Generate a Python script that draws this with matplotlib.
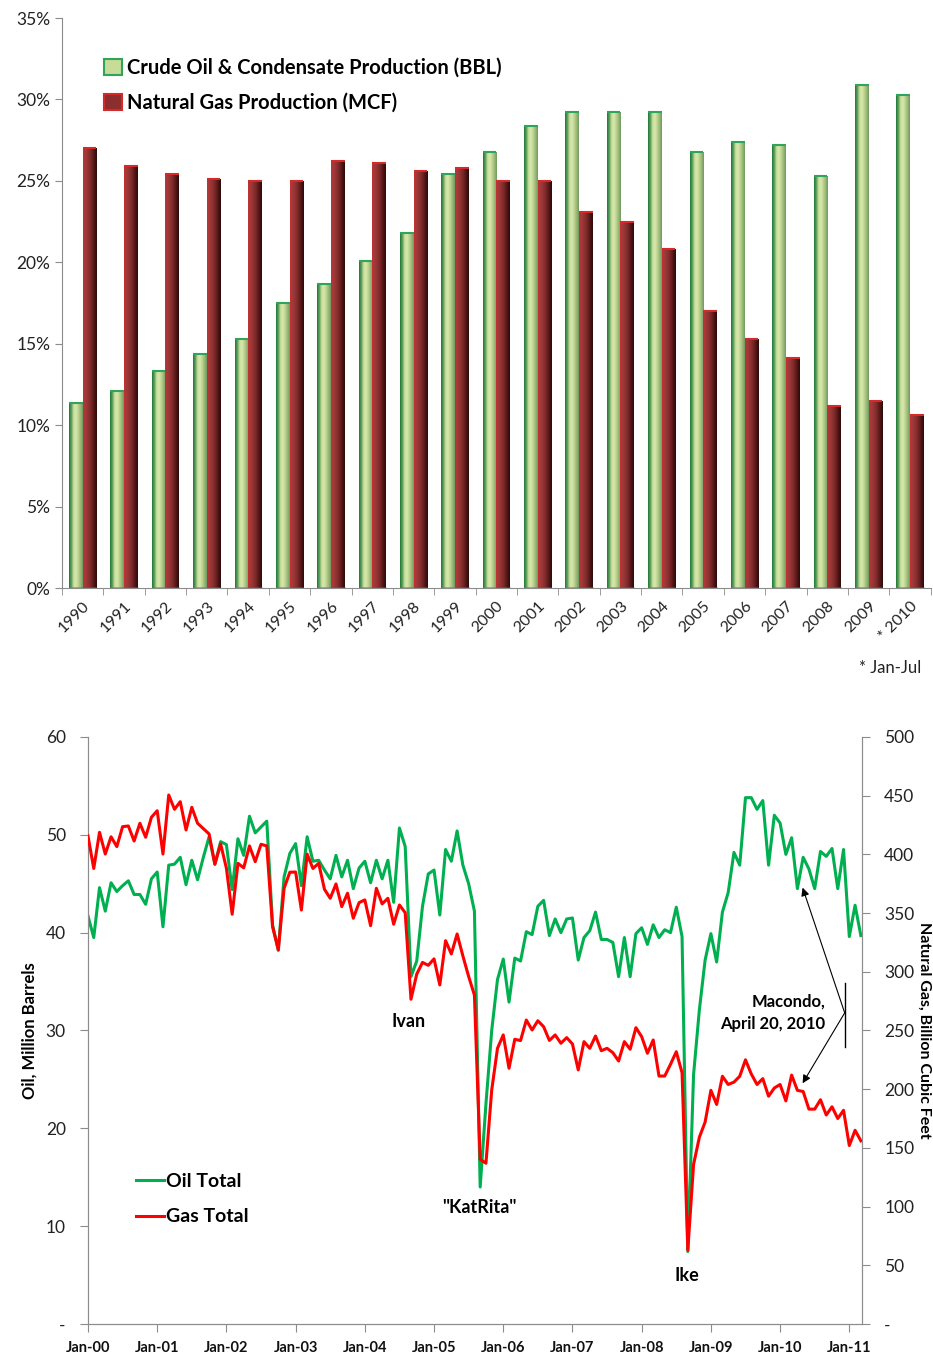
import numpy as np
import matplotlib
matplotlib.use('Agg')
import matplotlib.pyplot as plt
from matplotlib.colors import LinearSegmentedColormap
from matplotlib.ticker import PercentFormatter
from matplotlib.patches import Patch

plt.rcParams['font.family'] = ['Lato', 'DejaVu Sans']

# ---- top chart data: share of US production (%) ----
years = ['1990', '1991', '1992', '1993', '1994', '1995', '1996', '1997', '1998', '1999',
         '2000', '2001', '2002', '2003', '2004', '2005', '2006', '2007', '2008', '2009', '* 2010']
oil_share = [11.35, 12.1, 13.3, 14.4, 15.3, 17.5, 18.7, 20.1, 21.8, 25.4,
             26.8, 28.4, 29.2, 29.2, 29.2, 26.8, 27.4, 27.2, 25.3, 30.9, 30.3]
gas_share = [27.0, 25.9, 25.4, 25.1, 25.0, 25.0, 26.2, 26.1, 25.6, 25.8,
             25.0, 25.0, 23.1, 22.5, 20.8, 17.0, 15.3, 14.1, 11.2, 11.5, 10.6]

# ---- bottom chart data: monthly Gulf of Mexico production, Jan-00 .. Mar-11 ----
oil_total = [41.7, 39.5, 44.6, 42.2, 45.1, 44.2, 44.8, 45.3, 43.9, 43.9, 42.9, 45.5,
             46.2, 40.6, 46.9, 47.0, 47.7, 44.9, 47.4, 45.4, 47.7, 49.8, 47.0, 49.3,
             49.0, 44.4, 49.6, 47.9, 51.9, 50.2, 50.8, 51.4, 40.8, 38.2, 45.7, 48.1,
             49.1, 44.8, 49.8, 47.3, 47.4, 46.4, 45.5, 47.9, 45.7, 47.4, 44.5, 46.6,
             47.3, 45.1, 47.4, 45.5, 47.4, 43.1, 50.7, 48.8, 35.5, 37.1, 42.7, 46.0,
             46.4, 41.8, 48.5, 47.3, 50.4, 46.9, 45.0, 42.2, 14.0, 22.5, 30.0, 35.2,
             37.3, 32.9, 37.4, 37.1, 40.1, 39.8, 42.7, 43.3, 39.7, 41.4, 40.0, 41.4,
             41.5, 37.2, 39.5, 40.2, 42.1, 39.3, 39.3, 39.0, 35.5, 39.5, 35.5, 39.9,
             40.5, 38.8, 40.8, 39.5, 40.3, 40.0, 42.6, 39.6, 7.4, 25.5, 32.1, 37.2,
             39.9, 37.0, 42.1, 44.1, 48.2, 46.9, 53.8, 53.8, 52.6, 53.5, 46.9, 52.0,
             51.2, 48.0, 49.7, 44.5, 47.7, 46.5, 44.5, 48.3, 47.8, 48.6, 44.5, 48.5,
             39.6, 42.8, 39.7]
gas_total = [415.7, 388.0, 418.8, 400.3, 415.0, 406.6, 423.6, 424.2, 411.4, 426.5, 414.6, 431.6,
             437.2, 400.3, 450.6, 438.4, 444.9, 420.8, 440.1, 426.5, 421.9, 417.4, 391.6, 408.9,
             388.2, 349.0, 392.4, 388.5, 407.2, 393.8, 408.6, 407.2, 338.4, 318.6, 371.1, 384.8,
             385.0, 352.6, 400.2, 388.0, 392.4, 370.3, 362.6, 374.8, 355.5, 366.9, 345.6, 358.9,
             361.2, 339.3, 371.1, 357.8, 362.6, 340.5, 356.9, 350.3, 276.6, 298.0, 308.0, 305.5,
             311.0, 288.8, 326.5, 315.2, 332.2, 313.5, 296.0, 280.2, 140.3, 136.9, 199.3, 234.8,
             246.2, 217.8, 242.5, 241.4, 258.9, 250.4, 258.3, 253.2, 241.5, 246.2, 239.1, 243.9,
             238.5, 216.4, 240.5, 234.8, 245.3, 232.8, 234.8, 231.1, 224.0, 240.5, 234.0, 252.4,
             244.7, 230.6, 241.9, 211.2, 211.2, 221.2, 231.9, 214.0, 63.0, 136.0, 159.0, 172.0,
             199.0, 187.0, 211.0, 204.0, 206.0, 211.0, 225.0, 213.0, 204.0, 209.0, 194.0, 201.0,
             204.0, 190.0, 212.0, 199.0, 198.0, 183.0, 183.0, 191.0, 178.0, 185.0, 175.0, 182.0,
             152.0, 165.0, 156.0]
month_labels = ['Jan-00', 'Jan-01', 'Jan-02', 'Jan-03', 'Jan-04', 'Jan-05',
                'Jan-06', 'Jan-07', 'Jan-08', 'Jan-09', 'Jan-10', 'Jan-11']

axis_grey = '#8c8c8c'
fig = plt.figure(figsize=(9.33, 13.55), dpi=100)

# ================= top: bar chart =================
ax = fig.add_axes([0.0665, 0.566, 0.931, 0.4207])
x = np.arange(len(years))
w = 0.33
oil_bars = ax.bar(x - w / 2, oil_share, w, color='#c6dc98', zorder=1)
gas_bars = ax.bar(x + w / 2, gas_share, w, color='#8c2e2e', zorder=1)

oil_cmap = LinearSegmentedColormap.from_list(
    'oil', ['#1c7a3a', '#5f9e5a', '#c9de9c', '#d8e8ac', '#bcd290', '#9ab878', '#6f9a60'])
gas_cmap = LinearSegmentedColormap.from_list(
    'gas', ['#c43232', '#a23a3a', '#943434', '#852c2c', '#6a2020', '#4a1414', '#2e0a0a'])
grad = np.linspace(0, 1, 64).reshape(1, -1)
for bars, cm, top in [(oil_bars, oil_cmap, '#2ea55a'), (gas_bars, gas_cmap, '#d42a2a')]:
    for b in bars:
        x0, bw, h = b.get_x(), b.get_width(), b.get_height()
        im = ax.imshow(grad, cmap=cm, extent=[x0, x0 + bw, 0, h], aspect='auto', zorder=2)
        im.set_clip_path(b)
        ax.plot([x0, x0 + bw], [h, h], color=top, lw=1.5, zorder=3, solid_capstyle='butt')
        ax.plot([x0, x0 + bw], [0, 0], color=top, lw=2, alpha=0.6, zorder=3, solid_capstyle='butt')

ax.set_xlim(-0.5, len(years) - 0.5)
ax.set_ylim(0, 35)
ax.set_yticks(np.arange(0, 36, 5))
ax.yaxis.set_major_formatter(PercentFormatter(xmax=100, decimals=0))
ax.set_xticks(x)
ax.set_xticklabels(years, rotation=45, ha='right', va='top', rotation_mode='anchor')
ax.set_xticks(np.arange(-0.5, len(years), 1), minor=True)
ax.tick_params(axis='x', which='major', length=0, pad=8, labelsize=11.5, colors='#222222')
ax.tick_params(axis='x', which='minor', length=5, color=axis_grey)
ax.tick_params(axis='y', length=5, color=axis_grey, labelsize=12.5, labelcolor='#222222')
for s in ['top', 'right']:
    ax.spines[s].set_visible(False)
for s in ['left', 'bottom']:
    ax.spines[s].set_color(axis_grey)

leg_handles = [Patch(facecolor='#c6dc98', edgecolor='#2ea55a', lw=1.5),
               Patch(facecolor='#8c2e2e', edgecolor='#d42a2a', lw=1.5)]
ax.legend(leg_handles, ['Crude Oil & Condensate Production (BBL)', 'Natural Gas Production (MCF)'],
          loc='upper left', bbox_to_anchor=(0.027, 0.962), frameon=False,
          handlelength=0.9, handleheight=0.9, handletextpad=0.25, labelspacing=0.75,
          prop={'weight': 'bold', 'size': 14.5})
fig.text(0.987, 0.507, '* Jan-Jul', ha='right', va='center', fontsize=12, color='#222222')

# ================= bottom: monthly lines =================
months = np.arange(len(oil_total))
bx = fig.add_axes([0.0943, 0.0229, 0.8296, 0.4332])
bx2 = bx.twinx()
l1, = bx.plot(months, oil_total, color='#00b050', lw=2.2, zorder=3)
l2, = bx2.plot(months, gas_total, color='#ff0000', lw=2.2, zorder=3)

bx.set_xlim(0, 134.2)
bx.set_ylim(0, 60)
bx2.set_ylim(0, 500)
bx.set_yticks(np.arange(0, 61, 10))
bx.set_yticklabels(['-'] + [str(v) for v in range(10, 61, 10)])
bx2.set_yticks(np.arange(0, 501, 50))
bx2.set_yticklabels(['-'] + [str(v) for v in range(50, 501, 50)])
bx.set_xticks(np.arange(0, len(oil_total), 12))
bx.set_xticklabels(month_labels, fontweight='bold')
bx.tick_params(axis='x', length=6, color=axis_grey, labelsize=10.5, pad=6, labelcolor='#111111')
bx.tick_params(axis='y', length=6, color=axis_grey, labelsize=12.5, pad=10, labelcolor='#222222')
bx2.tick_params(axis='y', length=6, color=axis_grey, labelsize=12.5, pad=10, labelcolor='#222222')
for a in (bx, bx2):
    a.spines['top'].set_visible(False)
    for s in ['left', 'right', 'bottom']:
        a.spines[s].set_color(axis_grey)
bx.set_ylabel('Oil, Million Barrels', fontweight='bold', fontsize=12, labelpad=6)
fig.text(0.9905, 0.2395, 'Natural Gas, Billion Cubic Feet', rotation=-90, ha='center', va='center',
         fontweight='bold', fontsize=11.5)

bx.legend([l1, l2], ['Oil Total', 'Gas Total'], loc='upper left', bbox_to_anchor=(0.04, 0.287),
          frameon=False, handlelength=1.4, handletextpad=0.1, labelspacing=0.95,
          prop={'weight': 'bold', 'size': 14})

bx.text(55.6, 30.9, 'Ivan', ha='center', va='center', fontweight='bold', fontsize=13)
bx.text(67.9, 11.9, '"KatRita"', ha='center', va='center', fontweight='bold', fontsize=13)
bx.text(103.8, 5.0, 'Ike', ha='center', va='center', fontweight='bold', fontsize=13)
bx.text(127.9, 31.8, 'Macondo,\nApril 20, 2010', ha='right', va='center', fontweight='bold',
        fontsize=12, linespacing=1.45)
bx.plot([131.2, 131.2], [28.3, 34.9], color='black', lw=1, zorder=4)
for tgt in [(123.9, 44.6), (123.9, 24.6)]:
    bx.annotate('', xy=tgt, xytext=(131.2, 31.8),
                arrowprops=dict(arrowstyle='-|>', color='black', lw=0.8, mutation_scale=12,
                                shrinkA=0, shrinkB=0), zorder=5)

fig.savefig('out.png', dpi=100)
